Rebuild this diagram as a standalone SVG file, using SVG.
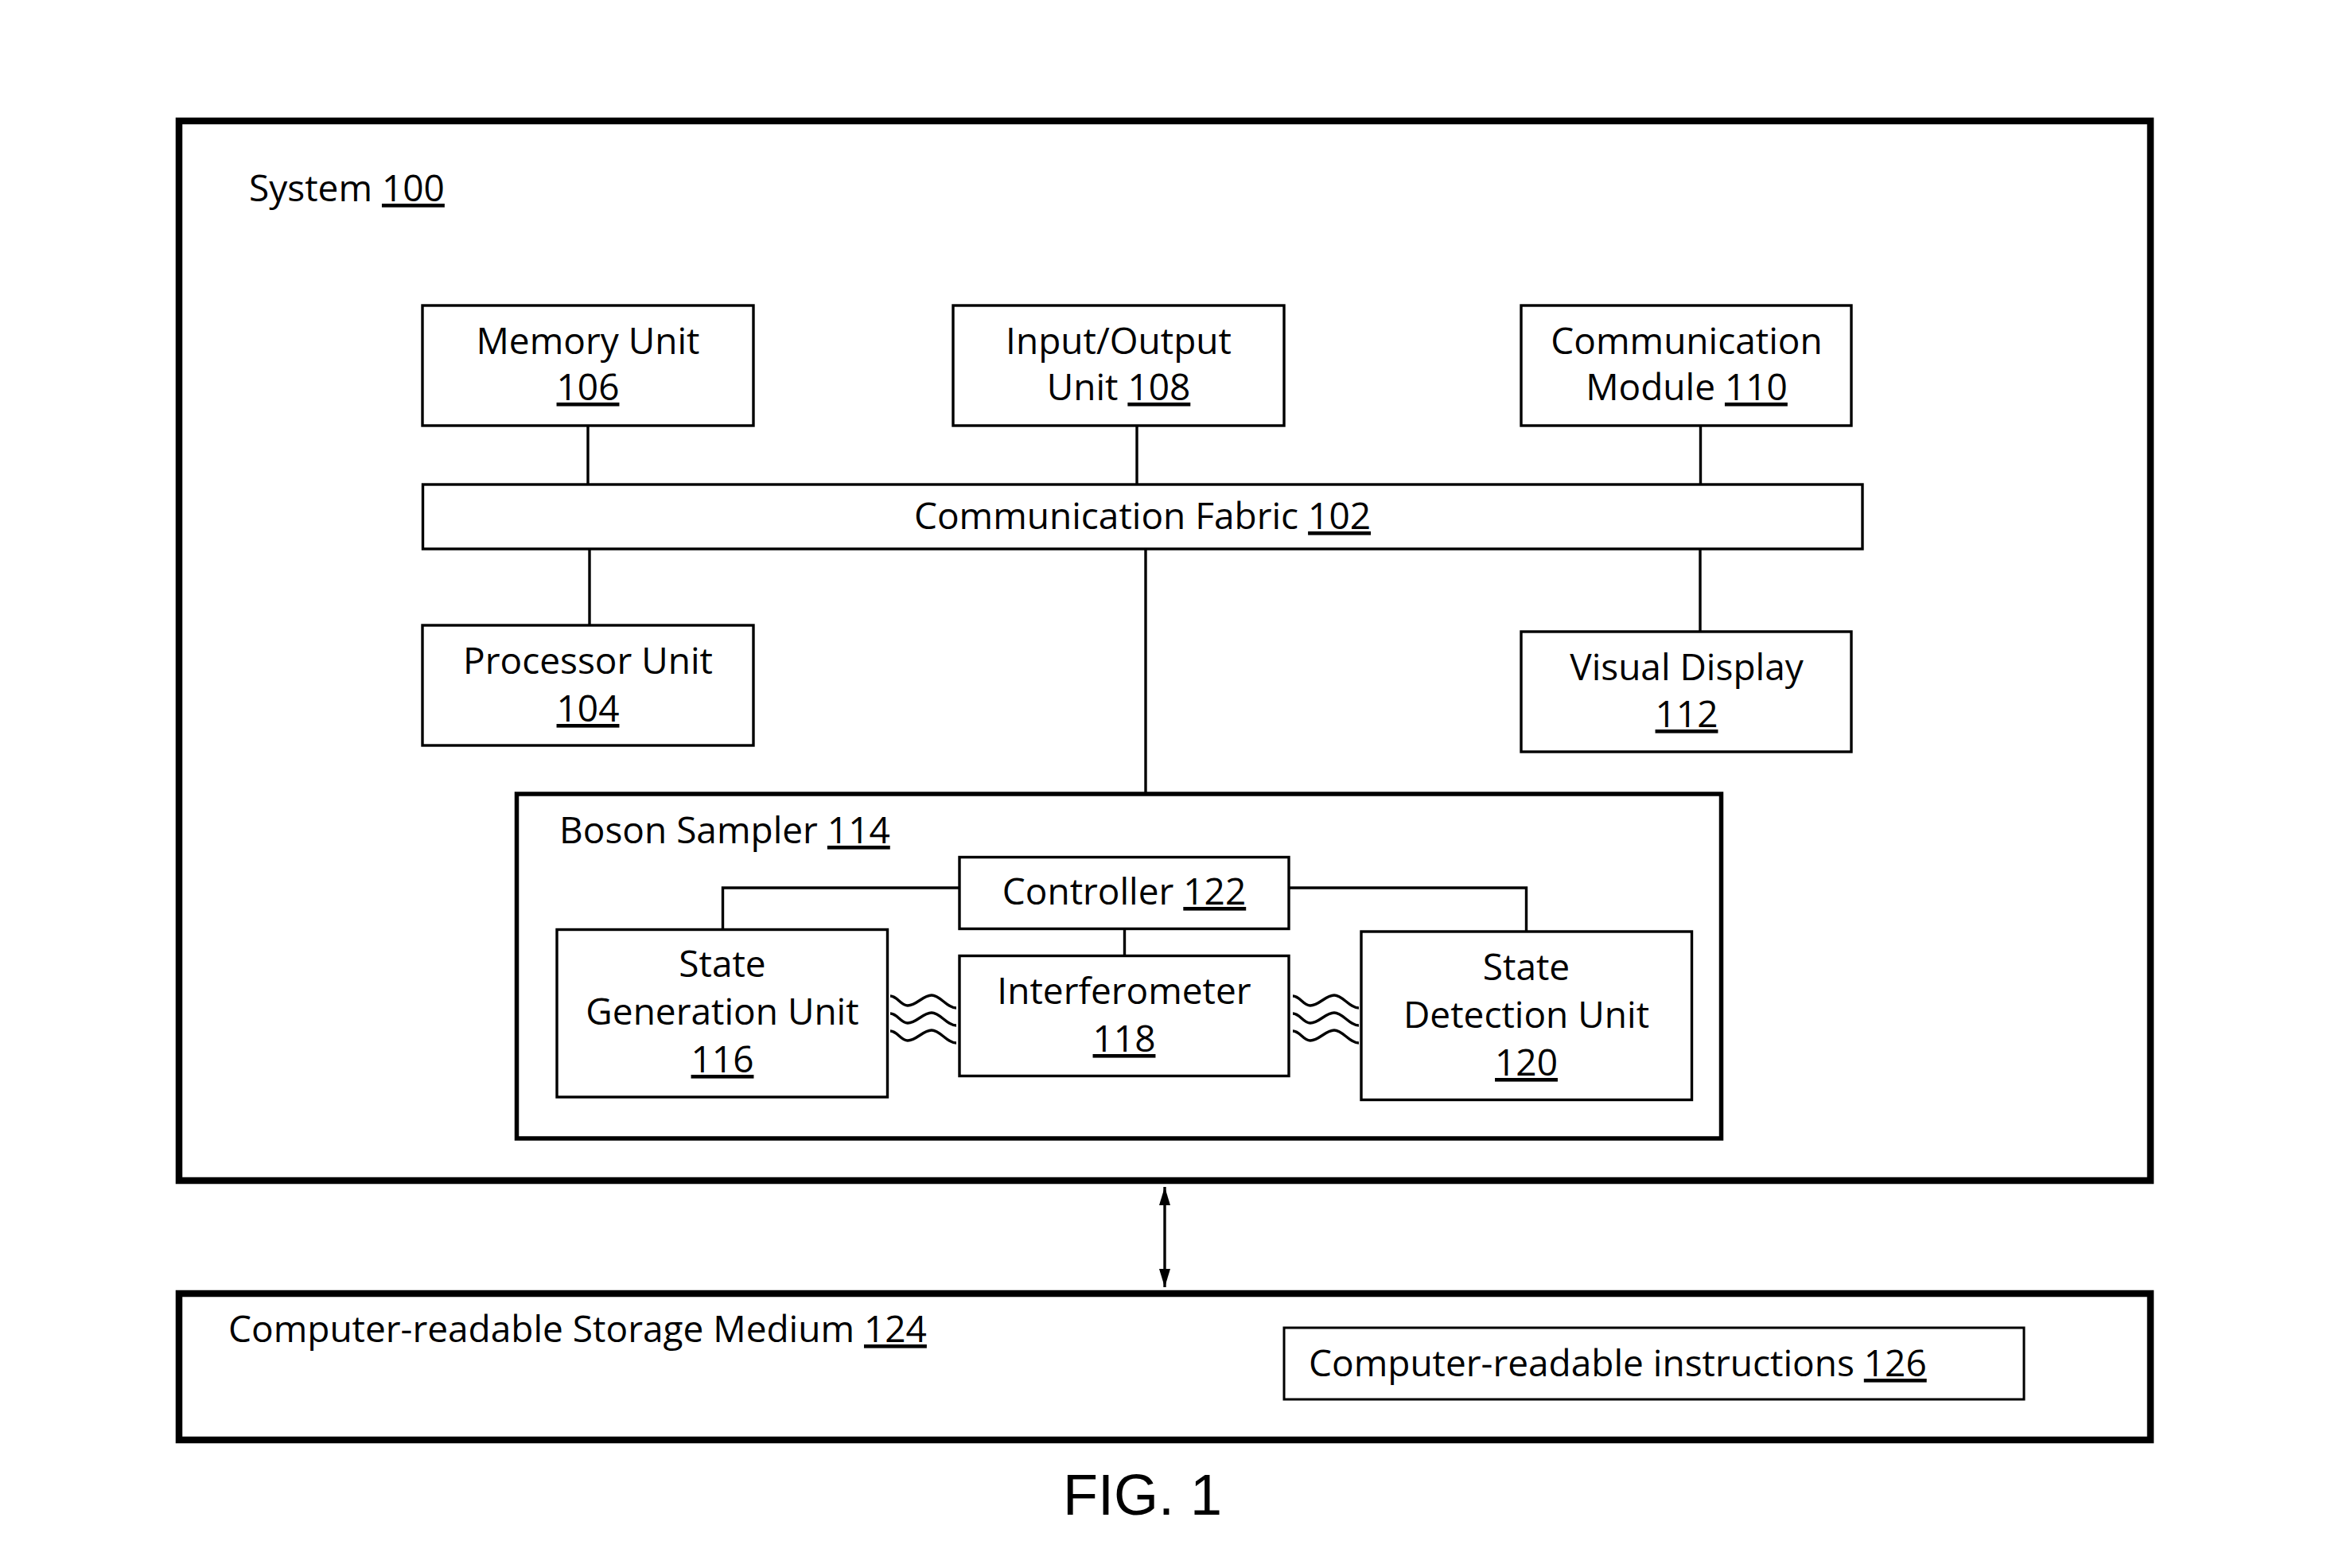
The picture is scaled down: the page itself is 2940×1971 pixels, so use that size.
<svg xmlns="http://www.w3.org/2000/svg" xmlns:xlink="http://www.w3.org/1999/xlink" width="2940" height="1971" viewBox="0 0 2940 1971">
<style>
  text { font-family: "Open Sans", "Noto Sans", "Liberation Sans", sans-serif; font-size: 46px; fill: #000; }
  .c { text-anchor: middle; }
  .u { text-decoration: underline; }
  .box { fill: #fff; stroke: #000; stroke-width: 3.4; }
  .big { fill: none; stroke: #000; stroke-width: 8.5; }
  .mid { fill: none; stroke: #000; stroke-width: 5.5; }
  .ln { fill: none; stroke: #000; stroke-width: 3.4; }
  .wave { fill: none; stroke: #000; stroke-width: 3.4; }
  .fig { font-family: "Liberation Sans", Arial, sans-serif; font-size: 72px; }
</style>
<defs>
  <path id="wave" d="M0,0 C9,0 13,12 22,12 C33,12 41,-1 52,-1 C63,-1 71,15 83,15"/>
  <marker id="ah" markerUnits="userSpaceOnUse" markerWidth="26" markerHeight="16" refX="23" refY="7" orient="auto-start-reverse">
    <path d="M0,0 L23,7 L0,14 Z" fill="#000"/>
  </marker>
</defs>
<rect width="2940" height="1971" fill="#fff"/>

<g id="system-100">
  <rect class="big" x="225" y="152" width="2478" height="1332"/>
  <text x="313" y="253">System <tspan class="u">100</tspan></text>
</g>

<g id="connectors">
  <line class="ln" x1="739" y1="535" x2="739" y2="609"/>
  <line class="ln" x1="1429" y1="535" x2="1429" y2="609"/>
  <line class="ln" x1="2137.5" y1="535" x2="2137.5" y2="609"/>
  <line class="ln" x1="741" y1="690" x2="741" y2="786"/>
  <line class="ln" x1="2137" y1="690" x2="2137" y2="794"/>
  <line class="ln" x1="1440" y1="690" x2="1440" y2="998"/>
  <polyline class="ln" points="1206,1116 908.5,1116 908.5,1168.5"/>
  <polyline class="ln" points="1620,1116 1918.5,1116 1918.5,1171"/>
  <line class="ln" x1="1413.5" y1="1167.5" x2="1413.5" y2="1201.5"/>
  <g class="wave">
    <use xlink:href="#wave" x="1119" y="1252"/>
    <use xlink:href="#wave" x="1119" y="1274"/>
    <use xlink:href="#wave" x="1119" y="1296"/>
    <use xlink:href="#wave" x="1625" y="1252"/>
    <use xlink:href="#wave" x="1625" y="1274"/>
    <use xlink:href="#wave" x="1625" y="1296"/>
  </g>
  <line class="ln" x1="1464" y1="1492" x2="1464" y2="1618" stroke-width="3.6" marker-start="url(#ah)" marker-end="url(#ah)"/>
</g>

<g id="memory-unit-106">
  <rect class="box" x="531" y="384" width="416" height="151"/>
  <text class="c" x="739" y="445">Memory Unit</text>
  <text class="c" x="739" y="503"><tspan class="u">106</tspan></text>
</g>

<g id="io-unit-108">
  <rect class="box" x="1198" y="384" width="416" height="151"/>
  <text class="c" x="1406" y="445">Input/Output</text>
  <text class="c" x="1406" y="503">Unit <tspan class="u">108</tspan></text>
</g>

<g id="communication-module-110">
  <rect class="box" x="1912" y="384" width="415" height="151"/>
  <text class="c" x="2120" y="445">Communication</text>
  <text class="c" x="2120" y="503">Module <tspan class="u">110</tspan></text>
</g>

<g id="communication-fabric-102">
  <rect class="box" x="531.5" y="609" width="1809.5" height="81"/>
  <text class="c" x="1436" y="665">Communication Fabric <tspan class="u">102</tspan></text>
</g>

<g id="processor-unit-104">
  <rect class="box" x="531" y="786" width="416" height="151"/>
  <text class="c" x="739" y="847">Processor Unit</text>
  <text class="c" x="739" y="907"><tspan class="u">104</tspan></text>
</g>

<g id="visual-display-112">
  <rect class="box" x="1912" y="794" width="415" height="151"/>
  <text class="c" x="2120" y="855">Visual Display</text>
  <text class="c" x="2120" y="914"><tspan class="u">112</tspan></text>
</g>

<g id="boson-sampler-114">
  <rect class="mid" x="649.5" y="998" width="1514" height="433"/>
  <text x="703" y="1060">Boson Sampler <tspan class="u">114</tspan></text>
</g>

<g id="controller-122">
  <rect class="box" x="1206" y="1077.5" width="414" height="90"/>
  <text class="c" x="1413" y="1137">Controller <tspan class="u">122</tspan></text>
</g>

<g id="state-generation-unit-116">
  <rect class="box" x="700" y="1168.5" width="415.5" height="210.5"/>
  <text class="c" x="908" y="1228">State</text>
  <text class="c" x="908" y="1288">Generation Unit</text>
  <text class="c" x="908" y="1348"><tspan class="u">116</tspan></text>
</g>

<g id="interferometer-118">
  <rect class="box" x="1206" y="1201.5" width="414" height="151"/>
  <text class="c" x="1413" y="1262">Interferometer</text>
  <text class="c" x="1413" y="1322"><tspan class="u">118</tspan></text>
</g>

<g id="state-detection-unit-120">
  <rect class="box" x="1711" y="1171" width="415.5" height="211.5"/>
  <text class="c" x="1918.5" y="1232">State</text>
  <text class="c" x="1918.5" y="1292">Detection Unit</text>
  <text class="c" x="1918.5" y="1352"><tspan class="u">120</tspan></text>
</g>

<g id="storage-medium-124">
  <rect class="big" x="225" y="1626" width="2478" height="184"/>
  <text x="287" y="1687">Computer-readable Storage Medium <tspan class="u">124</tspan></text>
</g>

<g id="instructions-126">
  <rect class="box" x="1614" y="1669" width="930" height="90" style="stroke-width:3"/>
  <text x="1645" y="1730">Computer-readable instructions <tspan class="u">126</tspan></text>
</g>

<text class="fig" x="1336" y="1904">FIG. 1</text>
</svg>
